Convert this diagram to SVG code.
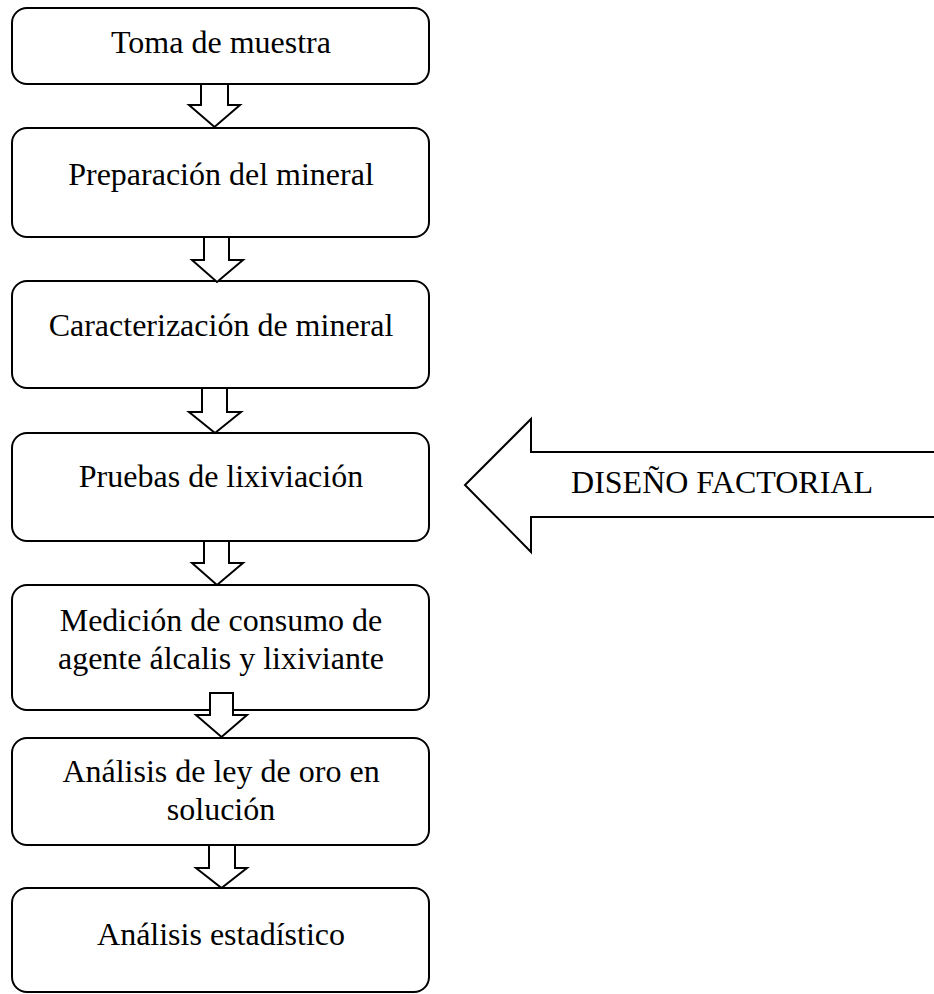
<svg xmlns="http://www.w3.org/2000/svg" width="934" height="994" viewBox="0 0 934 994">
<style>
.box{fill:#fff;stroke:#000;stroke-width:2}
.arr{fill:#fff;stroke:#000;stroke-width:2;stroke-linejoin:miter}
.t{font-family:"Liberation Serif","Times New Roman",serif;font-size:32px;fill:#000;text-anchor:middle}
</style>
<rect width="934" height="994" fill="#fff"/>
<g id="n1"><rect class="box" x="12" y="8" width="417" height="76" rx="15"/><text class="t" x="221" y="53">Toma de muestra</text></g>
<g id="n2"><rect class="box" x="12" y="128" width="417" height="109" rx="15"/><text class="t" x="221" y="185">Preparación del mineral</text></g>
<g id="n3"><rect class="box" x="12" y="281" width="417" height="107" rx="15"/><text class="t" x="221" y="336">Caracterización de mineral</text></g>
<g id="n4"><rect class="box" x="12" y="433" width="417" height="108" rx="15"/><text class="t" x="221" y="487">Pruebas de lixiviación</text></g>
<g id="n5"><rect class="box" x="12" y="585" width="417" height="125" rx="15"/><text class="t" x="221" y="631">Medición de consumo de</text><text class="t" x="221" y="669">agente álcalis y lixiviante</text></g>
<g id="n6"><rect class="box" x="12" y="738" width="417" height="107" rx="15"/><text class="t" x="221" y="782">Análisis de ley de oro en</text><text class="t" x="221" y="820">solución</text></g>
<g id="n7"><rect class="box" x="12" y="888" width="417" height="104" rx="15"/><text class="t" x="221" y="945">Análisis estadístico</text></g>
<g id="connectors">
<polygon class="arr" points="201,84 228,84 228,105 240,105 214.5,127 189,105 201,105"/>
<polygon class="arr" points="204,237 229,237 229,260 243,260 217,282 192,260 204,260"/>
<polygon class="arr" points="202,388 227,388 227,412 241,412 215,433 189,412 202,412"/>
<polygon class="arr" points="204,541 229,541 229,563 243,563 217,585 192,563 204,563"/>
<polygon class="arr" points="210,693 233,693 233,715 247,715 221.5,737 196,715 210,715"/>
<polygon class="arr" points="209,845 235,845 235,868 247,868 221.5,888 196,868 209,868"/>
</g>
<g id="factorial">
<polygon class="arr" points="940,452 531,452 531,419 465,485 531,552 531,517 940,517"/>
<text class="t" x="722" y="493">DISEÑO FACTORIAL</text>
</g>
</svg>
